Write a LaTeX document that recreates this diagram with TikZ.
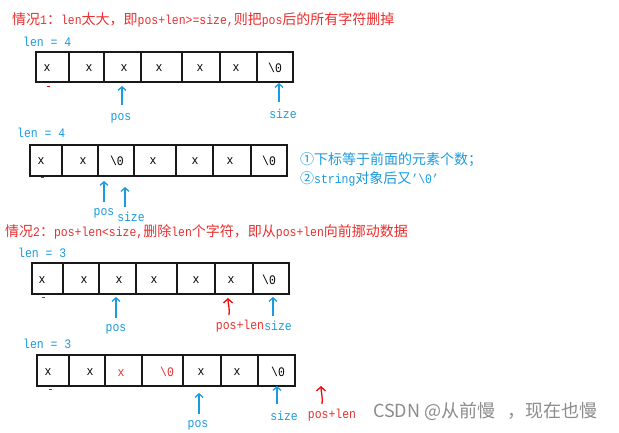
\documentclass[tikz,border=0pt]{standalone}
\usepackage{fontspec}
\setmainfont[FakeStretch=0.88]{Liberation Mono}
\newfontfamily\cjk[Scale=1.077]{Noto Sans CJK SC}
\newfontfamily\wmfont{Noto Sans CJK SC}
\usetikzlibrary{fit,arrows.meta}
\definecolor{myblue}{RGB}{25,155,225}
\definecolor{myred}{RGB}{235,45,45}
\definecolor{arrred}{RGB}{240,10,10}
\newcommand\C[1]{{\cjk #1}}
\newcommand\bs{\textbackslash}
\tikzset{
  cell/.style={draw=black!90, line width=1.3pt, inner sep=0pt},
  txt/.style={inner sep=0pt, font=\fontsize{13}{15}\selectfont},
  lbl/.style={txt, text=myblue},
  rlbl/.style={txt, text=myred},
  title/.style={txt, text=myred, anchor=west},
  uparr/.style={draw=myblue, line width=1.3pt, -{Straight Barb[length=3.5pt,width=8pt]}},
  rarr/.style={draw=arrred, line width=1.3pt, -{Straight Barb[length=4pt,width=9pt]}},
  dash mark/.style={draw=arrred, line width=1pt}
}
\begin{document}
\begin{tikzpicture}[x=1pt,y=-1pt]
\useasboundingbox[fill=white] (0,0) rectangle (619,432);

% ---------- case 1 ----------
\node[title] (t1) at (12,20) {\C{情况}1\C{：}len\C{太大，即}pos+len>=size,\C{则把}pos\C{后的所有字符删掉}};
\node[lbl, anchor=west] (la) at (23,42) {len = 4};
\foreach \i/\a/\b in {1/36/69,2/69/104,3/104/141,4/141/182,5/182/220,6/220/257,7/257/293}
  \node[cell, fit={(\a,52) (\b,82)}] (ra\i) {};
\foreach \i/\x/\t in {1/47/x,2/89/x,3/124/x,4/159/x,5/200/x,6/236/x}
  \node[txt] (ta\i) at (\x,68) {\t};
\node[txt] (ta7) at (275,68) {\bs 0};
\coordinate (da1) at (46.5,86); \coordinate (da2) at (49.5,86);
\draw[dash mark] (da1) -- (da2);
\node[lbl] (pa) at (121,118) {pos};
\node[lbl] (sa) at (283,114) {size};
\coordinate (pa0) at (122,105); \coordinate (pa1) at (122,86);
\coordinate (sa0) at (279,102); \coordinate (sa1) at (279,83);
\draw[uparr] (pa0) -- (pa1);
\draw[uparr] (sa0) -- (sa1);

% ---------- case 1, after ----------
\node[lbl, anchor=west] (lb) at (17,133) {len = 4};
\foreach \i/\a/\b in {1/30/62,2/62/98,3/98/134,4/134/176,5/176/213,6/213/251,7/251/287}
  \node[cell, fit={(\a,145) (\b,176)}] (rb\i) {};
\foreach \i/\x/\t in {1/41/x,2/83/x,4/153/x,5/195/x,6/230/x}
  \node[txt] (tb\i) at (\x,161) {\t};
\node[txt] (tb3) at (117,161) {\bs 0};
\node[txt] (tb7) at (269,161) {\bs 0};
\coordinate (db1) at (40.5,177.5); \coordinate (db2) at (43.5,177.5);
\draw[dash mark] (db1) -- (db2);
\node[lbl] (pb) at (104,213) {pos};
\node[lbl] (sb) at (131,217) {size};
\coordinate (pb0) at (104,202); \coordinate (pb1) at (104,181);
\coordinate (sb0) at (125,207); \coordinate (sb1) at (125,187);
\draw[uparr] (pb0) -- (pb1);
\draw[uparr] (sb0) -- (sb1);
\node[lbl, anchor=west] (nb1) at (300,160) {\C{①下标等于前面的元素个数；}};
\node[lbl, anchor=west] (nb2) at (300,179) {\C{②}string\C{对象后又}'\bs 0'};

% ---------- case 2 ----------
\node[title] (t2) at (5,232) {\C{情况}2\C{：}pos+len<size,\C{删除}len\C{个字符，即从}pos+len\C{向前挪动数据}};
\node[lbl, anchor=west] (lc) at (18,253) {len = 3};
\foreach \i/\a/\b in {1/32/63,2/63/99,3/99/136,4/136/177,5/177/215,6/215/253,7/253/289}
  \node[cell, fit={(\a,263) (\b,294)}] (rc\i) {};
\foreach \i/\x/\t in {1/42/x,2/84/x,3/119/x,4/154/x,5/196/x,6/231/x}
  \node[txt] (tc\i) at (\x,280) {\t};
\node[txt] (tc7) at (269,280) {\bs 0};
\coordinate (dc1) at (41.5,297); \coordinate (dc2) at (44.5,297);
\draw[dash mark] (dc1) -- (dc2);
\node[lbl] (pc) at (116,329) {pos};
\node[rlbl] (qc) at (240,326) {pos+len};
\node[lbl] (sc) at (278,326) {size};
\coordinate (pc0) at (116,318); \coordinate (pc1) at (116,297);
\coordinate (qc0) at (229,315); \coordinate (qc1) at (228,298);
\coordinate (sc0) at (273,316); \coordinate (sc1) at (273,297);
\draw[uparr] (pc0) -- (pc1);
\draw[rarr] (qc0) .. controls (230,309) and (228,304) .. (qc1);
\draw[uparr] (sc0) -- (sc1);

% ---------- case 2, after ----------
\node[lbl, anchor=west] (ld) at (23,344) {len = 3};
\foreach \i/\a/\b in {1/37/69,2/69/105,3/105/142,4/142/183,5/183/221,6/221/258,7/258/295}
  \node[cell, fit={(\a,355) (\b,386)}] (rd\i) {};
\foreach \i/\x/\t in {1/48/x,2/90/x,5/201/x,6/237/x}
  \node[txt] (td\i) at (\x,372) {\t};
\node[txt, text=myred] (td3) at (121,373) {x};
\node[txt, text=myred] (td4) at (167,372) {\bs 0};
\node[txt] (td7) at (278,372) {\bs 0};
\coordinate (dd1) at (48.5,389); \coordinate (dd2) at (51.5,389);
\draw[dash mark] (dd1) -- (dd2);
\node[lbl] (pd) at (198,425) {pos};
\node[lbl] (sd) at (284,416) {size};
\node[rlbl] (qd) at (332,415) {pos+len};
\coordinate (pd0) at (199,414); \coordinate (pd1) at (199,393);
\coordinate (sd0) at (277,404); \coordinate (sd1) at (277,386);
\coordinate (qd0) at (322,404); \coordinate (qd1) at (321,386);
\draw[uparr] (pd0) -- (pd1);
\draw[uparr] (sd0) -- (sd1);
\draw[rarr] (qd0) .. controls (323,398) and (321,392) .. (qd1);

% ---------- watermark ----------
\node[txt, anchor=west, text=black!45, font=\wmfont\fontsize{18}{20}\selectfont] (wm) at (373,411) {CSDN @从前慢\hspace{12pt}，现在也慢};
\end{tikzpicture}
\end{document}
